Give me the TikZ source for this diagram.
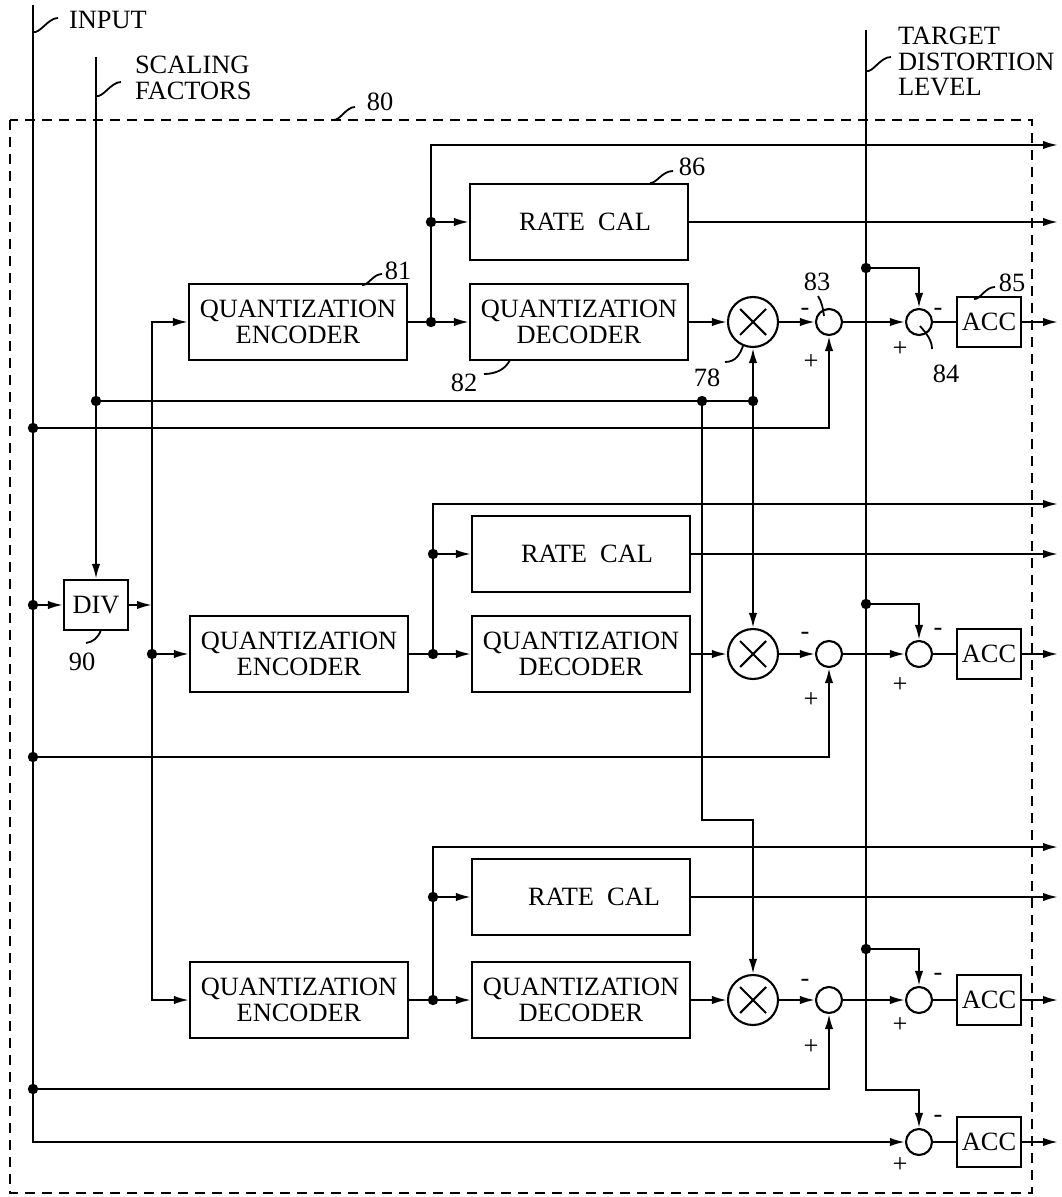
\documentclass[tikz,border=0pt]{standalone}
\usepackage{fontspec}
\setmainfont{Liberation Serif}
\usetikzlibrary{arrows.meta}
\begin{document}
\begin{tikzpicture}[x=0.5pt,y=-0.5pt,line width=1.05pt,
  lbl/.style={font=\fontsize{13.2}{12.8}\selectfont, inner sep=0pt},
  sgn/.style={font=\fontsize{13.2}{12.8}\selectfont, inner sep=0pt, anchor=base},
  blk/.style={draw, font=\fontsize{13.2}{12.8}\selectfont, align=center, minimum width=109pt, minimum height=38pt, inner sep=0pt},
  sblk/.style={draw, font=\fontsize{13.2}{12.8}\selectfont, minimum width=32pt, minimum height=25pt, inner sep=0pt},
  mult/.style={draw, circle, minimum size=25pt, inner sep=0pt},
  summ/.style={draw, circle, minimum size=13pt, inner sep=0pt},
  arr/.style={-{Latex[length=7.5pt,width=4.2pt]}},
  lead/.style={line width=0.9pt}]
\useasboundingbox (0,0) rectangle (1061,1197);
% frame 80
\draw[dash pattern=on 5pt off 3.5pt] (10,120) rectangle (1032,1193);

% ---------- blocks ----------
\node[blk] (enc1) at (298,322) {QUANTIZATION\\ENCODER};
\node[blk] (dec1) at (579,322) {QUANTIZATION\\DECODER};
\node[blk] (rc1)  at (579,222) {\hspace*{6pt}RATE\hspace{0.5em}CAL};
\node[blk] (enc2) at (299,654) {QUANTIZATION\\ENCODER};
\node[blk] (dec2) at (581,654) {QUANTIZATION\\DECODER};
\node[blk] (rc2)  at (581,554) {\hspace*{6pt}RATE\hspace{0.5em}CAL};
\node[blk] (enc3) at (299,1000) {QUANTIZATION\\ENCODER};
\node[blk] (dec3) at (581,1000) {QUANTIZATION\\DECODER};
\node[blk] (rc3)  at (581,897) {\hspace*{13pt}RATE\hspace{0.5em}CAL};
\node[sblk] (div) at (96,605) {DIV};

\node[mult] (mul1) at (753,322) {};
\node[mult] (mul2) at (753,654) {};
\node[mult] (mul3) at (753,1000) {};
\foreach \m in {mul1,mul2,mul3}{
  \draw ([shift={(-13,-13)}]\m.center) -- ([shift={(13,13)}]\m.center);
  \draw ([shift={(-13,13)}]\m.center) -- ([shift={(13,-13)}]\m.center);
}
\node[summ] (sa1) at (829,322) {};
\node[summ] (sa2) at (829,654) {};
\node[summ] (sa3) at (829,1000) {};
\node[summ] (sb1) at (919,322) {};
\node[summ] (sb2) at (919,654) {};
\node[summ] (sb3) at (919,1000) {};
\node[summ] (sb4) at (919,1142) {};
\node[sblk] (acc1) at (989,322) {ACC};
\node[sblk] (acc2) at (989,654) {ACC};
\node[sblk] (acc3) at (989,1000) {ACC};
\node[sblk] (acc4) at (989,1142) {ACC};

% ---------- coordinates ----------
\coordinate (iTop) at (33,5);
\coordinate (i1) at (33,428);
\coordinate (i2) at (33,605);
\coordinate (i3) at (33,757);
\coordinate (i4) at (33,1089);
\coordinate (iBot) at (33,1142);
\coordinate (sTop) at (96,57);
\coordinate (s1) at (96,401);
\coordinate (s78) at (702,401);
\coordinate (s2) at (753,401);
\coordinate (k78) at (702,820);
\coordinate (tTop) at (866,30);
\coordinate (t1) at (866,268);
\coordinate (t2) at (866,604);
\coordinate (t3) at (866,949);
\coordinate (tBend) at (866,1090);
\coordinate (evd) at (152,605);
\coordinate (ev2) at (152,654);
\coordinate (j1a) at (431,322);
\coordinate (j1b) at (431,222);
\coordinate (j2a) at (433,654);
\coordinate (j2b) at (433,554);
\coordinate (j3a) at (433,1000);
\coordinate (j3b) at (433,897);
\coordinate (o1a) at (1058,145);
\coordinate (o1b) at (1058,222);
\coordinate (o1c) at (1058,322);
\coordinate (o2a) at (1058,504);
\coordinate (o2b) at (1058,554);
\coordinate (o2c) at (1058,654);
\coordinate (o3a) at (1058,847);
\coordinate (o3b) at (1058,897);
\coordinate (o3c) at (1058,1000);
\coordinate (o4) at (1058,1142);

% ---------- input line ----------
\draw[arr] (iTop) -- (iBot) -- (sb4.west);
\draw[arr] (i1) -| (sa1.south);
\draw[arr] (i2) -- (div.west);
\draw[arr] (i3) -| (sa2.south);
\draw[arr] (i4) -| (sa3.south);

% ---------- scaling factors ----------
\draw[arr] (sTop) -- (div.north);
\draw (s1) -- (s2);
\draw[arr] (s2) -- (mul1.south);
\draw[arr] (s2) -- (mul2.north);
\draw[arr] (s78) -- (k78) -| (mul3.north);

% ---------- DIV to encoders ----------
\draw[arr] (div.east) -- (evd);
\draw[arr] (ev2) |- (enc1.west);
\draw[arr] (ev2) |- (enc3.west);
\draw[arr] (ev2) -- (enc2.west);

% ---------- rows ----------
\draw (enc1.east) -- (j1a);
\draw[arr] (j1a) -- (dec1.west);
\draw (j1a) -- (j1b);
\draw[arr] (j1b) -- (rc1.west);
\draw[arr] (j1b) |- (o1a);
\draw[arr] (rc1.east) -- (o1b);
\draw[arr] (dec1.east) -- (mul1.west);
\draw[arr] (mul1.east) -- (sa1.west);
\draw[arr] (sa1.east) -- (sb1.west);
\draw (sb1.east) -- (acc1.west);
\draw[arr] (acc1.east) -- (o1c);

\draw (enc2.east) -- (j2a);
\draw[arr] (j2a) -- (dec2.west);
\draw (j2a) -- (j2b);
\draw[arr] (j2b) -- (rc2.west);
\draw[arr] (j2b) |- (o2a);
\draw[arr] (rc2.east) -- (o2b);
\draw[arr] (dec2.east) -- (mul2.west);
\draw[arr] (mul2.east) -- (sa2.west);
\draw[arr] (sa2.east) -- (sb2.west);
\draw (sb2.east) -- (acc2.west);
\draw[arr] (acc2.east) -- (o2c);

\draw (enc3.east) -- (j3a);
\draw[arr] (j3a) -- (dec3.west);
\draw (j3a) -- (j3b);
\draw[arr] (j3b) -- (rc3.west);
\draw[arr] (j3b) |- (o3a);
\draw[arr] (rc3.east) -- (o3b);
\draw[arr] (dec3.east) -- (mul3.west);
\draw[arr] (mul3.east) -- (sa3.west);
\draw[arr] (sa3.east) -- (sb3.west);
\draw (sb3.east) -- (acc3.west);
\draw[arr] (acc3.east) -- (o3c);

\draw (sb4.east) -- (acc4.west);
\draw[arr] (acc4.east) -- (o4);

% ---------- target distortion ----------
\draw[arr] (tTop) -- (tBend) -| (sb4.north);
\draw[arr] (t1) -| (sb1.north);
\draw[arr] (t2) -| (sb2.north);
\draw[arr] (t3) -| (sb3.north);

% ---------- dots ----------
\foreach \p in {i1,i2,i3,i4,s1,s78,s2,ev2,j1a,j1b,j2a,j2b,j3a,j3b,t1,t2,t3}
  \fill (\p) circle[radius=2.6pt];

% ---------- signs (baseline placed so the glyph centre matches) ----------
\foreach \ym/\yp in {316/370,639/707,986/1054}{
  \node[sgn] at (805,\ym) {-};
  \node[sgn] at (811,\yp) {+};
}
\foreach \ym/\yp in {316/357,635/692,980/1032,1122/1172}{
  \node[sgn] at (938,\ym) {-};
  \node[sgn] at (900,\yp) {+};
}

% ---------- external labels ----------
\node[lbl, anchor=west] (linput) at (68,20) {INPUT};
\node[lbl, anchor=north west, align=left] (lscale) at (134,55) {SCALING\\FACTORS};
\node[lbl, anchor=north west, align=left] (ltarget) at (897,26) {TARGET\\DISTORTION\\LEVEL};
\draw[lead] (33,32) .. controls (40,34) and (48,18) .. (58,18);
\draw[lead] (96,96) .. controls (103,98) and (111,82) .. (121,82);
\draw[lead] (866,71) .. controls (873,73) and (880,57) .. (891,57);

% ---------- reference numerals ----------
\node[lbl] (n80) at (380,102) {80};
\draw[lead] (333,120) .. controls (340,121) and (346,107) .. (355,107);
\node[lbl] (n81) at (398,271) {81};
\draw[lead] (362,285) .. controls (368,286) and (373,274) .. (382,274);
\node[lbl] (n86) at (692,167) {86};
\draw[lead] (650,183) .. controls (656,184) and (662,171) .. (673,171);
\node[lbl] (n85) at (1012,283) {85};
\draw[lead] (974,299) .. controls (980,300) and (985,287) .. (995,287);
\node[lbl] (n82) at (464,383) {82};
\draw[lead] (510,360) .. controls (505,370) and (495,374) .. (484,374);
\node[lbl] (n90) at (82,662) {90};
\draw[lead] (101,630) .. controls (98,638) and (93,642) .. (86,643);
\node[lbl] (n78) at (707,378) {78};
\draw[lead] (743,346) .. controls (740,354) and (736,362) .. (725,362);
\node[lbl] (n83) at (817,282) {83};
\draw[lead] (818,296) .. controls (822,302) and (823,309) .. (824,316);
\node[lbl] (n84) at (946,374) {84};
\draw[lead] (920,326) .. controls (926,333) and (932,340) .. (932,349);
\end{tikzpicture}
\end{document}
